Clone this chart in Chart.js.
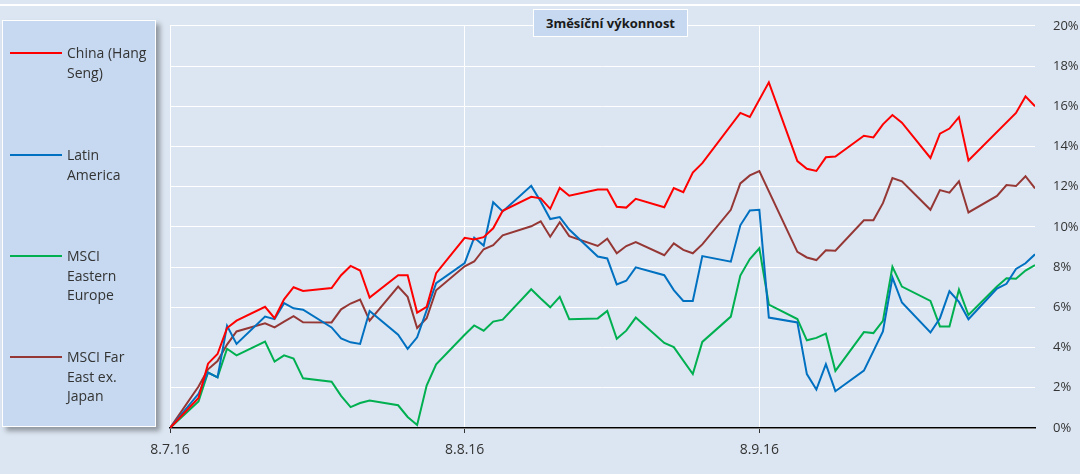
<!DOCTYPE html>
<html lang="cs">
<head>
<meta charset="utf-8">
<title>3měsíční výkonnost</title>
<script src="https://cdn.jsdelivr.net/npm/chart.js@4.4.0/dist/chart.umd.min.js"></script>
<style>
  html, body { margin: 0; padding: 0; background: #dce6f2; }
  #wrap { position: relative; width: 1080px; height: 474px; overflow: hidden; font-family: "Open Sans", sans-serif; }
  #topline { position: absolute; left: 0; top: 4px; width: 1080px; height: 2px; background: #fff; }
  canvas { position: absolute; left: 0; top: 0; }
  #legend { position: absolute; left: 2px; top: 20px; width: 152px; height: 405px; background: #c6d9f0;
            border: 1px solid #fff; box-shadow: 4px 4px 5px rgba(0, 0, 0, 0.35); }
  .swatch { position: absolute; left: 7px; width: 52px; height: 2px; }
  .txt { position: absolute; left: 64px; width: 90px; font-size: 14px; line-height: 19.5px; color: #333; white-space: pre-line; }
  #title { position: absolute; left: 533px; top: 9px; width: 153px; height: 26px; background: #c6d9f0;
           border: 1px solid #fff; font-weight: bold; font-size: 13px; line-height: 26px; text-align: center; color: #1a1a1a; }
</style>
</head>
<body>
<div id="wrap">
  <div id="topline"></div>
  <canvas id="perf-chart" width="1080" height="474"></canvas>
  <div id="legend"></div>
  <div id="title">3měsíční výkonnost</div>
</div>
<script>
// trading days, counted in days from 8.7.16
const days = [0, 3, 4, 5, 6, 7, 10, 11, 12, 13, 14, 17, 18, 19, 20, 21, 24, 25, 26, 27, 28,
  31, 32, 33, 34, 35, 38, 39, 40, 41, 42, 45, 46, 47, 48, 49, 52, 53, 54, 55, 56,
  59, 60, 61, 62, 63, 66, 67, 68, 69, 70, 73, 74, 75, 76, 77, 80, 81, 82, 83, 84,
  87, 88, 89, 90, 91];

// x-axis tick labels
const tickDays = [0, 31, 62];
const tickLabels = ["8.7.16", "8.8.16", "8.9.16"];

// series (% performance)
const china = [0, 1.49, 3.2, 3.68, 4.97, 5.34, 6.03, 5.46, 6.4, 7.0, 6.81, 6.96, 7.6, 8.06, 7.83, 6.49,
  7.6, 7.6, 5.74, 6.03, 7.7, 9.46, 9.38, 9.49, 9.93, 10.8, 11.5, 11.42, 10.9, 11.94, 11.55,
  11.86, 11.86, 11.0, 10.96, 11.4, 10.98, 11.93, 11.73, 12.7, 13.17, null, 15.67, 15.47, null, 17.19,
  13.27, 12.89, 12.78, 13.46, 13.5, 14.53, 14.45, 15.1, 15.56, 15.18, 13.43, 14.64, 14.89, 15.46, 13.3,
  null, null, 15.67, 16.49, 16.0];

const latam = [0, 1.7, 2.76, 2.52, 5.08, 4.18, 5.54, 5.41, 6.21, 5.95, 5.88, 5.0, 4.45, 4.26, 4.18, 5.82,
  4.64, 3.94, 4.51, null, 7.2, 8.2, 9.47, 9.07, 11.23, 10.77, 12.04, 11.26, 10.39, 10.49, 9.87,
  8.53, 8.43, 7.14, 7.32, 7.99, 7.6, 6.86, 6.32, 6.32, 8.55, 8.27, 10.08, 10.82, 10.85, 5.49,
  5.25, 2.68, 1.91, 3.17, 1.83, 2.85, 3.82, 4.8, 7.48, 6.24, 4.75, 5.46, 6.8, 6.27, 5.41,
  6.93, 7.17, 7.91, 8.19, 8.64];

const easternEurope = [0, 1.32, 2.76, 2.52, 3.94, 3.61, 4.3, 3.3, 3.61, 3.45, 2.47, 2.3, 1.6, 1.04, 1.24, 1.37,
  1.13, 0.55, 0.15, 2.11, 3.17, 4.64, 5.1, 4.84, 5.29, 5.39, 6.9, 6.44, 6.0, 6.52, 5.41,
  5.45, 5.82, 4.44, 4.84, 5.49, 4.23, 4.02, null, 2.68, 4.28, 5.54, 7.58, 8.4, 8.94, 6.14,
  5.42, 4.36, 4.48, 4.69, 2.84, 4.77, 4.72, 5.33, 8.02, 7.03, 6.32, 5.05, 5.05, 6.88, 5.62,
  7.04, 7.45, 7.42, 7.83, 8.1];

const farEast = [0, 2.06, 2.92, 3.33, 4.15, 4.8, 5.21, 5.0, 5.29, 5.56, 5.26, 5.25, 5.9, 6.19, 6.39, 5.34,
  7.03, 6.52, 4.97, 5.46, 6.85, 8.04, 8.28, 8.89, 9.09, 9.58, 10.03, 10.28, 9.51, 10.23, 9.54,
  9.05, 9.41, 8.69, 9.05, 9.25, 8.59, 9.18, 8.86, 8.69, 9.13, 10.85, 12.16, 12.56, 12.78, null,
  8.76, 8.48, 8.35, 8.84, 8.82, 10.33, 10.33, 11.18, 12.43, 12.27, 10.85, 11.83, 11.7, 12.27, 10.72,
  11.54, 12.08, 12.03, 12.52, 11.91];

const seriesNames = ["China (Hang\nSeng)", "Latin\nAmerica", "MSCI\nEastern\nEurope", "MSCI Far\nEast ex.\nJapan"];
const seriesColors = ["#ff0000", "#0070c0", "#00b050", "#953735"];
const seriesValues = [china, latam, easternEurope, farEast];

Chart.defaults.font.family = '"Open Sans", sans-serif';

const toPoints = (vals) => days.map((d, i) => ({ x: d, y: vals[i] }));

const ctx = document.getElementById("perf-chart").getContext("2d");
const chart = new Chart(ctx, {
  type: "line",
  data: {
    datasets: seriesValues.map((vals, i) => ({
      label: seriesNames[i].replace(/\n/g, " "),
      data: toPoints(vals),
      borderColor: seriesColors[i],
      borderWidth: 2,
      pointRadius: 0,
      tension: 0,
      spanGaps: true,
      fill: false,
    })),
  },
  options: {
    responsive: false,
    animation: false,
    layout: { padding: { left: 170, top: 20, right: 0, bottom: 0 } },
    plugins: {
      legend: { display: false },
      tooltip: { enabled: false },
    },
    scales: {
      x: {
        type: "linear",
        min: 0,
        max: 91,
        afterBuildTicks: (scale) => {
          scale.ticks = tickDays.map((v) => ({ value: v }));
        },
        afterFit: (scale) => {
          scale.height = 46;
        },
        ticks: {
          autoSkip: false,
          maxRotation: 0,
          padding: 9,
          color: "#333",
          font: { size: 14 },
          callback: (v) => tickLabels[tickDays.indexOf(v)],
        },
        grid: { color: "#ffffff", lineWidth: 1, tickColor: "#333", tickLength: 5 },
        border: { color: "#000", width: 1.5 },
      },
      y: {
        position: "right",
        min: 0,
        max: 20,
        afterFit: (scale) => {
          scale.width = 45;
        },
        ticks: {
          stepSize: 2,
          padding: 18,
          color: "#333",
          font: { size: 13 },
          callback: (v) => v + "%",
        },
        grid: { color: "#ffffff", lineWidth: 1, drawTicks: false },
        border: { display: false },
      },
    },
  },
});

// legend box, built from the datasets
const legendBox = document.getElementById("legend");
const itemTops = [31, 133, 234, 335];
chart.data.datasets.forEach((ds, i) => {
  const sw = document.createElement("div");
  sw.className = "swatch";
  sw.style.top = itemTops[i] + "px";
  sw.style.background = ds.borderColor;
  legendBox.appendChild(sw);

  const txt = document.createElement("div");
  txt.className = "txt";
  txt.style.top = itemTops[i] - 9 + "px";
  txt.textContent = seriesNames[i];
  legendBox.appendChild(txt);
});
</script>
</body>
</html>
